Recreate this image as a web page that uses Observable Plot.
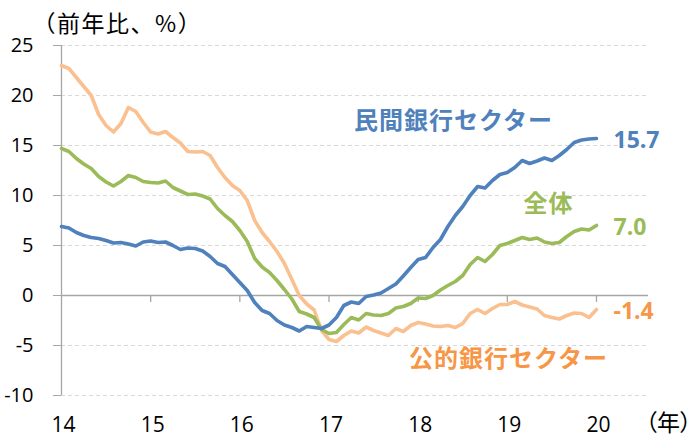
<!DOCTYPE html>
<html><head><meta charset="utf-8">
<script src="https://cdn.jsdelivr.net/npm/d3@7"></script>
<script src="https://cdn.jsdelivr.net/npm/@observablehq/plot@0.6"></script>
<style>
html,body{margin:0;padding:0;background:#fff;}
#chart svg{display:block;}
</style></head><body><div id="chart"></div>
<script>
// ---- data (monthly, Jan 2014 – Jan 2020), year-on-year % ----
const startYear = 14;
const privateBank = [
  6.9, 6.75, 6.3, 6.0, 5.8, 5.7, 5.5, 5.25, 5.3, 5.15,
  4.95, 5.35, 5.45, 5.3, 5.35, 5.0, 4.6, 4.75, 4.7, 4.45,
  3.9, 3.2, 2.9, 2.1, 1.3, 0.5, -0.7, -1.5, -1.8, -2.5,
  -2.95, -3.2, -3.55, -3.1, -3.2, -3.3, -2.95, -2.2, -1.0, -0.65,
  -0.8, -0.1, 0.05, 0.25, 0.7, 1.15, 1.95, 2.8, 3.6, 3.8,
  4.8, 5.6, 6.9, 8.0, 8.9, 10.0, 10.9, 10.75, 11.5, 12.1,
  12.3, 12.8, 13.5, 13.2, 13.45, 13.75, 13.5, 14.0, 14.6, 15.3,
  15.55, 15.65, 15.7
];
const total = [
  14.7, 14.4, 13.7, 13.15, 12.7, 11.9, 11.35, 10.95, 11.4, 12.0,
  11.8, 11.4, 11.3, 11.25, 11.45, 10.8, 10.45, 10.1, 10.15, 9.95,
  9.65, 8.7, 8.0, 7.4, 6.5, 5.4, 3.7, 2.85, 2.3, 1.5,
  0.6, -0.35, -1.6, -1.85, -2.2, -3.4, -3.8, -3.7, -2.9, -2.2,
  -2.45, -1.8, -1.95, -2.0, -1.8, -1.25, -1.1, -0.8, -0.25, -0.3,
  0.0, 0.55, 1.0, 1.4, 2.0, 3.1, 3.8, 3.4, 4.1, 5.0,
  5.2, 5.5, 5.8, 5.6, 5.75, 5.35, 5.2, 5.3, 5.9, 6.4,
  6.65, 6.55, 7.0
];
const publicBank = [
  23.0, 22.7, 21.8, 20.9, 20.0, 18.1, 17.0, 16.35, 17.2, 18.8,
  18.4, 17.3, 16.35, 16.15, 16.4, 15.8, 15.25, 14.4, 14.35, 14.4,
  14.0, 12.8, 11.8, 11.0, 10.5, 9.5, 7.5, 6.3, 5.4, 4.4,
  3.2, 1.6, 0.0, -0.85, -1.45, -3.5, -4.4, -4.6, -4.0, -3.55,
  -3.75, -3.15, -3.5, -3.75, -4.0, -3.3, -3.6, -3.0, -2.7, -2.85,
  -3.05, -3.1, -3.0, -3.2, -2.8, -1.8, -1.4, -1.8, -1.3, -0.9,
  -0.9, -0.6, -0.95, -1.15, -1.35, -2.0, -2.2, -2.35, -2.0, -1.75,
  -1.8, -2.2, -1.4
];
const seriesNames = ["民間銀行セクター", "全体", "公的銀行セクター"];
const yTicks = [-10, -5, 0, 5, 10, 15, 20, 25];
const xTicks = [14, 15, 16, 17, 18, 19, 20];
const yTitle = "（前年比、%）";
const xTitle = "（年）";

// ---- styling ----
const FONT = "'Open Sans','Noto Sans CJK JP',sans-serif";
const JP = "'Noto Sans CJK JP','Open Sans',sans-serif";
const AXIS = "#a6a6a6";
const styles = [
  {values: privateBank, name: seriesNames[0], line: "#4F81BD", text: "#4F81BD", nameDx: -143, nameDy: -17},
  {values: total,       name: seriesNames[1], line: "#9BBB59", text: "#9BBB59", nameDx: -48,  nameDy: -21},
  {values: publicBank,  name: seriesNames[2], line: "#FAC090", text: "#F79646", nameDx: -88,  nameDy: 50}
];
const drawOrder = [2, 1, 0];

const toRows = (vals) => vals.map((v, i) => ({x: startYear + i / 12, y: v}));
const lastOf = (vals) => [{x: startYear + (vals.length - 1) / 12, y: vals[vals.length - 1]}];

const marks = [
  Plot.gridY(yTicks.filter(d => d !== 0), {stroke: "#d9d9d9", strokeOpacity: 1, strokeDasharray: "4,3"}),
  Plot.ruleY([0], {stroke: AXIS, strokeWidth: 1.3}),
  Plot.ruleX([xTicks[0]], {stroke: AXIS, strokeWidth: 1.3}),
  Plot.ruleX(xTicks.slice(1), {x: d => d, y1: 0, y2: -0.7, stroke: AXIS, strokeWidth: 1.3}),
  Plot.axisY({ticks: yTicks, tickSize: 8, tickPadding: 20, fontSize: 20, stroke: AXIS, fill: "#000", label: null, tickFormat: d => String(d)}),
  Plot.axisX({ticks: xTicks, tickSize: 0, tickPadding: 22, fontSize: 21, fill: "#000", label: null, tickFormat: d => String(d), dx: 2}),
];
for (const k of drawOrder) {
  const s = styles[k];
  marks.push(Plot.line(toRows(s.values), {x: "x", y: "y", stroke: s.line, strokeWidth: 3.6, strokeLinejoin: "round", strokeLinecap: "round"}));
}
for (const s of styles) {
  const last = lastOf(s.values);
  marks.push(Plot.text(last, {x: "x", y: "y", text: d => d.y.toFixed(1), dx: 17, dy: 2, textAnchor: "start", fill: s.text, fontWeight: "bold", fontSize: 23, fontFamily: FONT}));
  marks.push(Plot.text(last, {x: "x", y: "y", text: () => s.name, dx: s.nameDx, dy: s.nameDy, textAnchor: "middle", fill: s.text, fontWeight: "bold", fontSize: 24, fontFamily: JP}));
}
marks.push(Plot.text([yTitle], {frameAnchor: "top-left", text: d => d, dx: -29, dy: -30, textAnchor: "start", fontSize: 23, fontFamily: JP, fill: "#000"}));
marks.push(Plot.text([xTitle], {frameAnchor: "bottom-right", text: d => d, dx: 43, dy: 35, textAnchor: "end", fontSize: 23, fontFamily: JP, fill: "#000"}));

const chart = Plot.plot({
  width: 692,
  height: 438,
  marginLeft: 61,
  marginRight: 44,
  marginTop: 45,
  marginBottom: 43,
  style: {fontFamily: FONT, background: "#fff", overflow: "visible"},
  x: {domain: [14, 20 + 7 / 12], axis: null},
  y: {domain: [-10, 25], axis: null},
  marks
});
// typographic tweaks: proportional CJK punctuation for the year title, letter spacing for titles
chart.querySelectorAll("text").forEach(t => {
  const s = t.textContent;
  if (/銀行|全体/.test(s)) t.style.letterSpacing = "1px";
  if (s === yTitle) t.style.letterSpacing = "1.5px";
  if (s === xTitle) t.style.fontFeatureSettings = '"palt"';
});
document.getElementById("chart").appendChild(chart);
</script>
</body></html>
